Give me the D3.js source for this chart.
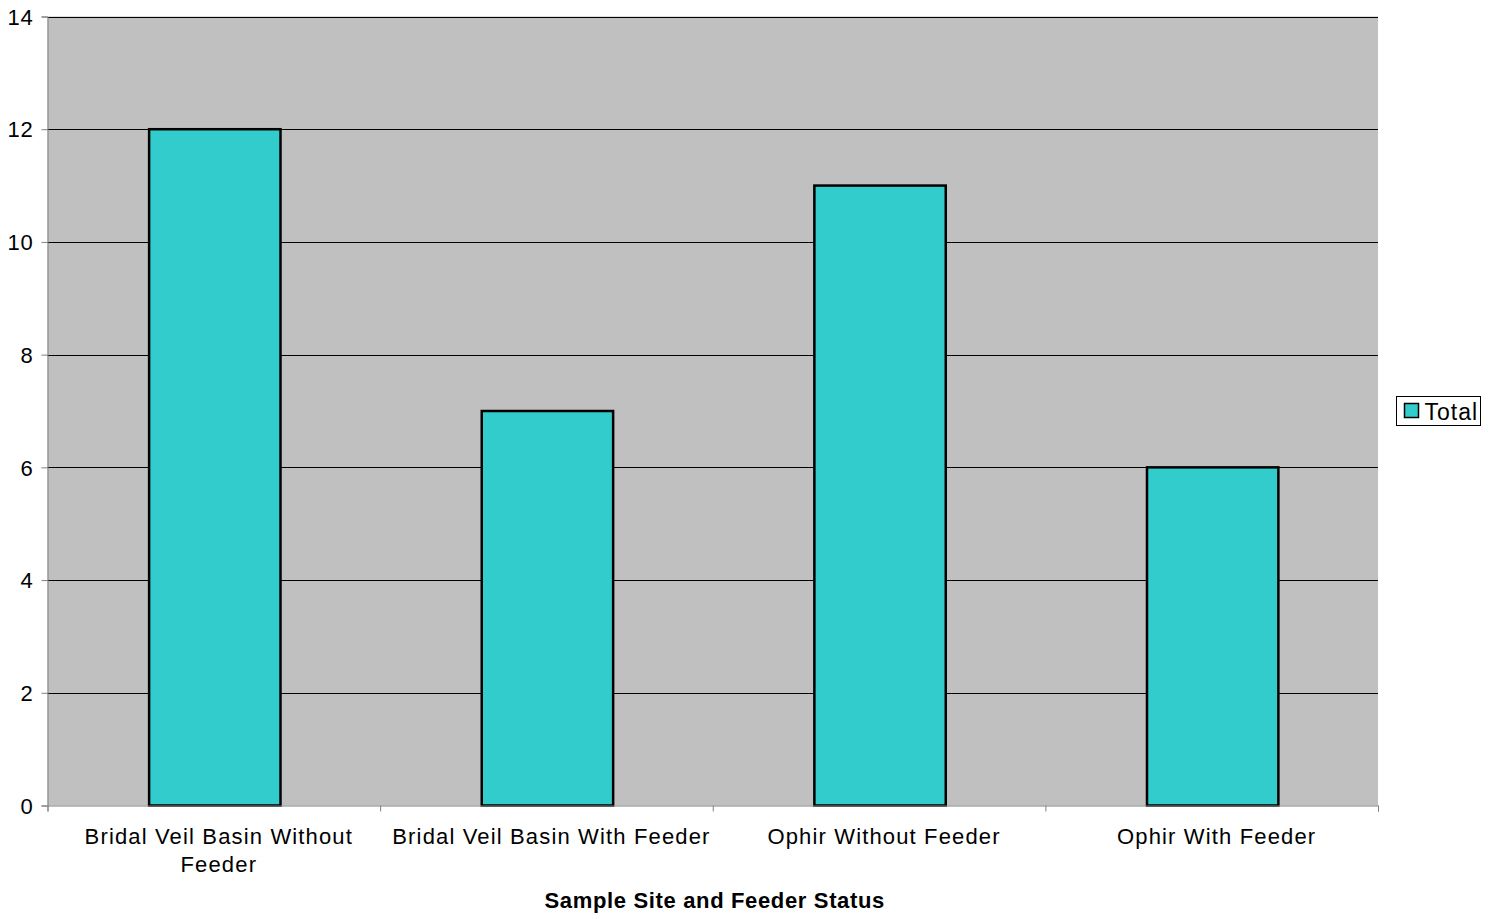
<!DOCTYPE html>
<html><head><meta charset="utf-8">
<script src="https://cdn.jsdelivr.net/npm/d3@7"></script>
<style>body{margin:0;background:#fff;}svg{display:block;font-family:"Liberation Sans",Arial,sans-serif;}</style>
</head><body>
<svg id="c" width="1490" height="919"></svg>
<script>
const categories = [["Bridal Veil Basin Without","Feeder"],["Bridal Veil Basin With Feeder"],["Ophir Without Feeder"],["Ophir With Feeder"]];
const values = [12, 7, 11, 6];
const yTicks = [0,2,4,6,8,10,12,14];
const seriesName = "Total";
const xTitle = "Sample Site and Feeder Status";

const svg = d3.select("#c");
const L=47.5, R=1378, T=16.5, B=805.5;
const x = d3.scaleBand().domain(d3.range(values.length)).range([L,R]).paddingInner(0).paddingOuter(0);
const y = d3.scaleLinear().domain([0,14]).range([B,T]);

svg.append("rect").attr("x",L).attr("y",T).attr("width",R-L).attr("height",B-T).attr("fill","#c0c0c0");
svg.append("g").selectAll("line").data(yTicks.filter(d=>d>0)).join("line")
  .attr("x1",L).attr("x2",R).attr("y1",d=>Math.round(y(d))+0.5).attr("y2",d=>Math.round(y(d))+0.5)
  .attr("stroke","#000").attr("stroke-width",1);
const bw = x.bandwidth()*0.395;
svg.append("g").selectAll("rect").data(values).join("rect")
  .attr("x",(d,i)=>x(i)+x.bandwidth()/2-bw/2+1).attr("y",d=>y(d)).attr("width",bw).attr("height",d=>B-y(d))
  .attr("fill","#33cccc").attr("stroke","#000").attr("stroke-width",2.5);
const ya = svg.append("g").attr("transform",`translate(${L},0)`).call(d3.axisLeft(y).tickValues(yTicks).tickSize(6).tickPadding(8));
ya.select(".domain").attr("stroke","#808080");
ya.selectAll(".tick line").attr("stroke","#808080");
ya.selectAll(".tick text").attr("font-size",22).attr("fill","#000").attr("font-family","Liberation Sans, Arial, sans-serif").attr("dy","0.35em").attr("letter-spacing","0.8");
const xl = d3.scaleLinear().domain([0,values.length]).range([L,R]);
const xa = svg.append("g").attr("transform",`translate(0,${B})`).call(d3.axisBottom(xl).tickValues(d3.range(values.length+1)).tickSize(6).tickFormat(""));
xa.select(".domain").attr("stroke","#808080");
xa.selectAll(".tick line").attr("stroke","#808080");
const lab = svg.append("g").selectAll("text").data(categories).join("text")
  .attr("x",(d,i)=>x(i)+x.bandwidth()/2+5).attr("y",844).attr("text-anchor","middle")
  .attr("font-size",22).attr("fill","#000").attr("letter-spacing","1.15");
lab.selectAll("tspan").data(d=>d).join("tspan").attr("x",function(){return this.parentNode.getAttribute("x");})
  .attr("dy",(d,j)=>j?28:0).text(d=>d);
svg.append("text").attr("x",(L+R)/2+2).attr("y",908).attr("text-anchor","middle").attr("font-size",22).attr("font-weight","bold").attr("letter-spacing","0.65").text(xTitle);
const lg = svg.append("g").attr("transform","translate(1396.5,396.5)");
lg.append("rect").attr("width",84).attr("height",29).attr("fill","#fff").attr("stroke","#000");
lg.append("rect").attr("x",8).attr("y",7).attr("width",14).attr("height",14).attr("fill","#33cccc").attr("stroke","#000").attr("stroke-width",1.5);
lg.append("text").attr("x",28).attr("y",23).attr("font-size",23).attr("letter-spacing","1").text(seriesName);
</script>
</body></html>
